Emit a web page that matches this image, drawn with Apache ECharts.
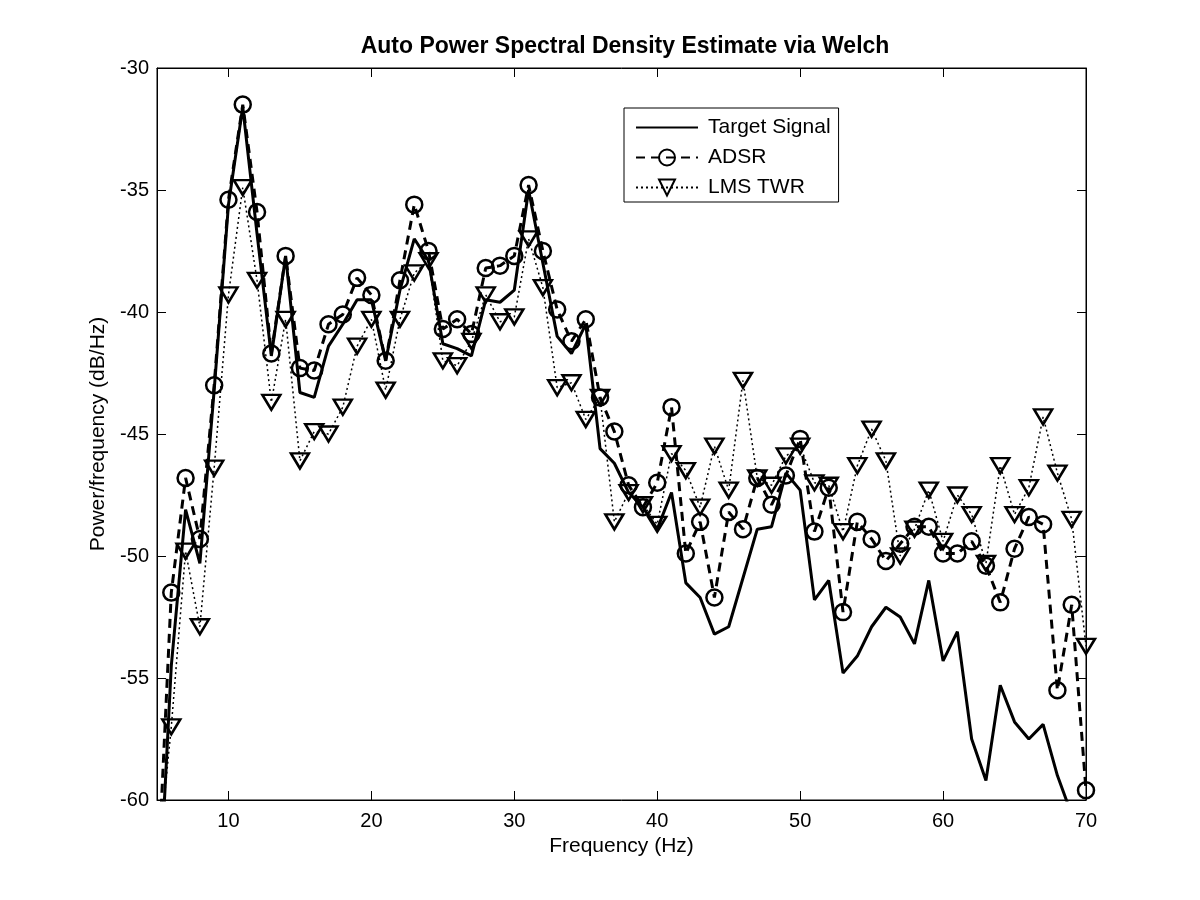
<!DOCTYPE html>
<html><head><meta charset="utf-8">
<script src="https://cdn.jsdelivr.net/npm/echarts@6/dist/echarts.min.js"></script>
<style>html,body{margin:0;padding:0;background:#fff}#c{width:1200px;height:900px}</style>
</head><body><div id="c"></div>
<script>
const freq = [5,6,7,8,9,10,11,12,13,14,15,16,17,18,19,20,21,22,23,24,25,26,27,28,29,30,31,32,33,34,35,36,37,38,39,40,41,42,43,44,45,46,47,48,49,50,51,52,53,54,55,56,57,58,59,60,61,62,63,64,65,66,67,68,69,70];
const targetSignal = [-66,-54.5,-48.1,-50.3,-43.2,-35.6,-31.6,-36.8,-41.8,-37.7,-43.3,-43.5,-41.4,-40.5,-39.5,-39.5,-42.0,-39.1,-37.0,-37.9,-41.3,-41.5,-41.8,-39.5,-39.6,-39.1,-35.0,-38.0,-41.0,-41.7,-40.5,-45.6,-46.2,-47.4,-48.0,-48.9,-47.4,-51.1,-51.7,-53.2,-52.9,-50.9,-48.9,-48.8,-46.6,-47.3,-51.8,-51.0,-54.8,-54.1,-52.9,-52.1,-52.5,-53.6,-51.0,-54.3,-53.1,-57.5,-59.2,-55.3,-56.8,-57.5,-56.9,-59.0,-60.6,-62.5];
const adsr = [-64,-51.5,-46.8,-49.3,-43.0,-35.4,-31.5,-35.9,-41.7,-37.7,-42.3,-42.4,-40.5,-40.1,-38.6,-39.3,-42.0,-38.7,-35.6,-37.5,-40.7,-40.3,-40.9,-38.2,-38.1,-37.7,-34.8,-37.5,-39.9,-41.2,-40.3,-43.5,-44.9,-47.1,-48.0,-47.0,-43.9,-49.9,-48.6,-51.7,-48.2,-48.9,-46.8,-47.9,-46.7,-45.2,-49.0,-47.2,-52.3,-48.6,-49.3,-50.2,-49.5,-48.8,-48.8,-49.9,-49.9,-49.4,-50.4,-51.9,-49.7,-48.4,-48.7,-55.5,-52.0,-59.6];
const lmsTwr = [-63,-57.0,-49.8,-52.9,-46.4,-39.3,-34.9,-38.7,-43.7,-40.3,-46.1,-44.9,-45.0,-43.9,-41.4,-40.3,-43.2,-40.3,-38.4,-37.9,-42.0,-42.2,-41.2,-39.3,-40.4,-40.2,-37.0,-39.0,-43.1,-42.9,-44.4,-43.5,-48.6,-47.4,-47.9,-48.7,-45.8,-46.5,-48.0,-45.5,-47.3,-42.8,-46.8,-47.1,-45.9,-45.5,-47.0,-47.1,-49.0,-46.3,-44.8,-46.1,-50.0,-48.9,-47.3,-49.4,-47.5,-48.3,-50.3,-46.3,-48.3,-47.2,-44.3,-46.6,-48.5,-53.7];
const xTicks = [10,20,30,40,50,60,70];
const yTicks = [-60,-55,-50,-45,-40,-35,-30];
const seriesNames = ['Target Signal','ADSR','LMS TWR'];

const FONT = 'Liberation Sans, Arial, sans-serif';
const pair = arr => freq.map((f,i)=>[f, arr[i]]);
const tickCommon = {show:true, inside:true, length:9, lineStyle:{color:'#000', width:1}};
const chart = echarts.init(document.getElementById('c'), null, {renderer:'canvas'});
chart.setOption({
  backgroundColor:'#fff',
  animation:false,
  title:{text:'Auto Power Spectral Density Estimate via Welch', left:620, textAlign:'center', top:30,
    textStyle:{fontFamily:FONT, fontSize:23, fontWeight:'bold', color:'#000'}},
  grid:{left:157, right:114, top:68, bottom:100, show:true, borderColor:'#000', borderWidth:1, backgroundColor:'#fff'},
  legend:{orient:'vertical', left:624, top:108, padding:[9,8,4,11], itemGap:9,
    backgroundColor:'#fff', borderColor:'#000', borderWidth:1, itemWidth:62, itemHeight:20,
    textStyle:{fontFamily:FONT, fontSize:21, color:'#000', padding:[0,0,0,5]},
    data:[{name:seriesNames[0], itemStyle:{opacity:0}}, {name:seriesNames[1]}, {name:seriesNames[2]}]},
  xAxis:[{type:'value', min:5, max:70, position:'bottom',
    name:'Frequency (Hz)', nameLocation:'middle', nameGap:34,
    nameTextStyle:{fontFamily:FONT, fontSize:21, color:'#000'},
    axisLine:{show:true, onZero:false, lineStyle:{color:'#000'}},
    axisTick:Object.assign({customValues:xTicks}, tickCommon),
    axisLabel:{customValues:xTicks, fontFamily:FONT, fontSize:20, color:'#000', margin:11},
    splitLine:{show:false}},
   {type:'value', min:5, max:70, position:'top',
    axisLine:{show:true, onZero:false, lineStyle:{color:'#000'}},
    axisTick:Object.assign({customValues:xTicks}, tickCommon),
    axisLabel:{show:false}, splitLine:{show:false}}],
  yAxis:[{type:'value', min:-60, max:-30, interval:5, position:'left',
    name:'Power/frequency (dB/Hz)', nameLocation:'middle', nameGap:45, nameRotate:90,
    nameTextStyle:{fontFamily:FONT, fontSize:21, color:'#000'},
    axisLine:{show:true, onZero:false, lineStyle:{color:'#000'}},
    axisTick:tickCommon,
    axisLabel:{fontFamily:FONT, fontSize:20, color:'#000', margin:8},
    splitLine:{show:false}},
   {type:'value', min:-60, max:-30, interval:5, position:'right',
    axisLine:{show:true, onZero:false, lineStyle:{color:'#000'}},
    axisTick:tickCommon, axisLabel:{show:false}, splitLine:{show:false}}],
  series:[
    {name:seriesNames[0], type:'line', data:pair(targetSignal), showSymbol:false, symbol:'none',
     clip:true, lineStyle:{color:'#000', width:3}, itemStyle:{color:'#000'}, z:3},
    {name:seriesNames[1], type:'line', data:pair(adsr), symbol:'circle', symbolSize:16, showAllSymbol:true,
     clip:true, lineStyle:{color:'#000', width:3, type:[9,6]},
     itemStyle:{color:'rgba(0,0,0,0)', borderColor:'#000', borderWidth:2.5}, z:4},
    {name:seriesNames[2], type:'line', data:pair(lmsTwr), symbol:'path://M0,0L20,0L10,17Z', symbolSize:[18,15],
     showAllSymbol:true, clip:true, lineStyle:{color:'#000', width:1.5, type:[2,3]},
     itemStyle:{color:'rgba(0,0,0,0)', borderColor:'#000', borderWidth:2.5}, z:5}
  ]
});
</script></body></html>
